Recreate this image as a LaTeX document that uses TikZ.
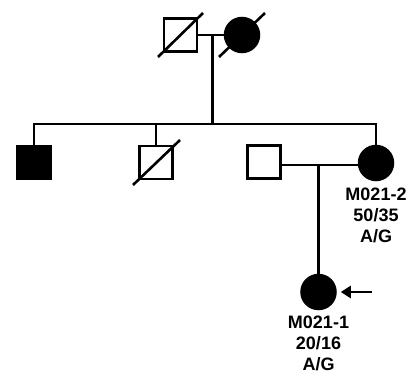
\documentclass[tikz,border=0pt]{standalone}
\usepackage{fontspec}
\setmainfont{Liberation Sans}
\usetikzlibrary{arrows.meta}
\begin{document}
\begin{tikzpicture}[x=1pt,y=-1pt,line width=2.5pt,
  male/.style={draw,rectangle,minimum size=33pt,inner sep=0pt},
  female/.style={draw,circle,minimum size=34pt,inner sep=0pt},
  aff/.style={fill=black},
  lbl/.style={anchor=north,inner sep=0pt,align=center,font=\bfseries\fontsize{18}{21}\selectfont},
  dead/.style={line width=2.6pt}]
\useasboundingbox (0,0) rectangle (409,374);
% generation I
\node[male] (gf) at (180.5,35) {};
\node[female,aff] (gm) at (242,35) {};
\draw[dead] (158,57) -- (203,13);
\draw[dead] (219,57) -- (265,13);
\coordinate (m1) at (212.5,35);
\coordinate (sib) at (212.5,124);
\draw (gf.east) -- (gm.west);
\draw[line width=3pt] (m1) -- (sib);
% generation II
\node[male,aff] (s1) at (34,162.5) {};
\node[male] (s2) at (156,162.5) {};
\node[male] (s3) at (264,162) {};
\node[female,aff] (s4) at (376,163) {};
\draw[dead] (133,185) -- (180,140);
\draw (s1.north) -- (s1.north |- sib) -- (s4.north |- sib) -- (s4.north);
\draw (s2.north) -- (s2.north |- sib);
\coordinate (m2) at (318.5,165);
\draw (s3.east |- m2) -- (s4.west |- m2);
% generation III
\node[female,aff] (c1) at (318.5,292) {};
\draw (m2) -- (c1.north);
\coordinate (arr) at (372,292);
\draw[-{Triangle[length=10pt,width=12pt]}] (arr) -- ([xshift=4pt]c1.east);
% labels
\node[lbl] (l4) at ([yshift=-5pt]s4.south) {M021-2\\50/35\\A/G};
\node[lbl] (lc) at ([yshift=-4pt]c1.south) {M021-1\\20/16\\A/G};
\end{tikzpicture}
\end{document}
